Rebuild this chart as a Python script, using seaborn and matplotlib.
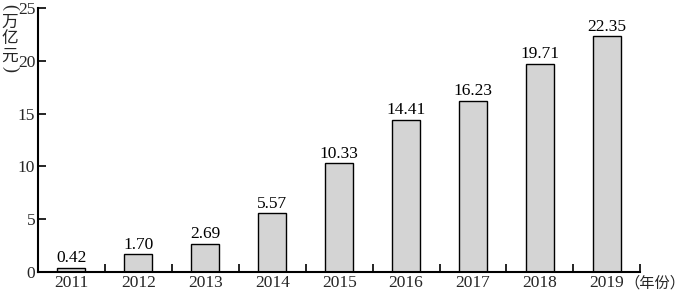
import matplotlib
matplotlib.use("Agg")
import matplotlib.pyplot as plt
import seaborn as sns
import pandas as pd
from matplotlib.ticker import FixedLocator

years = ["2011", "2012", "2013", "2014", "2015", "2016", "2017", "2018", "2019"]
values = [0.42, 1.70, 2.69, 5.57, 10.33, 14.41, 16.23, 19.71, 22.35]
yticks = [0, 5, 10, 15, 20, 25]
ylabel_chars = ["万", "亿", "元"]
xlabel = "（年份）"

sns.set_theme(style="white")
plt.rcParams['font.family'] = ['Liberation Serif', 'Noto Sans CJK SC']

df = pd.DataFrame({"year": years, "value": values})

fig = plt.figure(figsize=(6.9, 2.92), dpi=100)
ax = fig.add_axes([0.055, 0.0685, 0.873, 0.904])
sns.barplot(data=df, x="year", y="value", color="#d4d4d4", edgecolor="black",
            linewidth=1.0, width=0.42, saturation=1, ax=ax)
for c in ax.containers:
    ax.bar_label(c, fmt="%.2f", padding=1, fontsize=12.5, color="black")

ax.set_xlim(-0.5, len(years) - 0.5)
ax.set_ylim(0, 25)
ax.set_yticks(yticks)
ax.set_yticklabels([str(t) for t in yticks], fontsize=12.5)
ax.set_xticks(range(len(years)))
ax.set_xticklabels(years, fontsize=12.5)
ax.tick_params(axis="x", which="major", length=0, pad=2)
ax.xaxis.set_minor_locator(FixedLocator([i + 0.5 for i in range(len(years))]))
ax.tick_params(axis="x", which="minor", direction="in", length=6, width=1.2, color="black", bottom=True)
ax.tick_params(axis="y", which="major", direction="in", length=6, width=1.2, color="black", left=True, pad=2)
ax.set_xlabel("")
ax.set_ylabel("")
for s in ["top", "right"]:
    ax.spines[s].set_visible(False)
for s in ["left", "bottom"]:
    ax.spines[s].set_color("black")
    ax.spines[s].set_linewidth(1.5)

cjk = ["Noto Sans CJK SC", "DejaVu Sans"]
W, H = 690.0, 292.0
xc = 10.0 / W
fig.text(xc, 1 - 7.0 / H, "(", rotation=-90, ha="center", va="center", fontsize=13,
         family=["Liberation Serif"], rotation_mode="anchor")
for i, ch in enumerate(ylabel_chars):
    fig.text(xc, 1 - (22.0 + 17 * i) / H, ch, ha="center", va="center", fontsize=12, family=cjk)
fig.text(xc, 1 - 69.0 / H, ")", rotation=-90, ha="center", va="center", fontsize=13,
         family=["Liberation Serif"], rotation_mode="anchor")

fig.text(624.0 / W, 1 - 283.0 / H, xlabel, ha="left", va="center", fontsize=11, family=cjk)

fig.savefig("out.png", dpi=100)
